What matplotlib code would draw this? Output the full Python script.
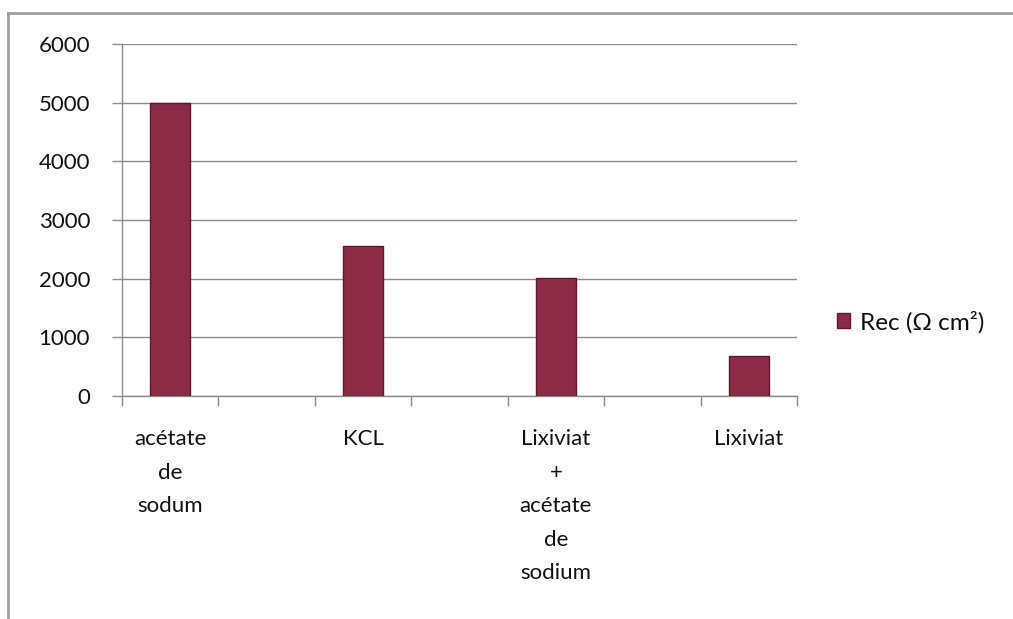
import matplotlib
matplotlib.use("Agg")
import matplotlib.pyplot as plt
from matplotlib.lines import Line2D
from matplotlib.patches import Patch

categories = ["acétate\nde\nsodum", "", "KCL", "", "Lixiviat\n+\nacétate\nde\nsodium", "", "Lixiviat"]
values = [5000, None, 2560, None, 2010, None, 690]
series_name = "Rec (Ω cm²)"
yticks = [0, 1000, 2000, 3000, 4000, 5000, 6000]

plt.rcParams['font.family'] = ['Lato', 'DejaVu Sans']

W, H = 1013, 619
fig = plt.figure(figsize=(W / 100, H / 100), dpi=100)
ax = fig.add_axes([122 / W, 1 - 396 / H, (797 - 122) / W, (396 - 44) / H])

grid_c = "#8c8c8c"
bar_c = "#8c2b46"
edge_c = "#5e1a2c"
txt_c = "#111111"

xs = [i for i, v in enumerate(values) if v is not None]
hs = [v for v in values if v is not None]
ax.bar(xs, hs, width=0.42, color=bar_c, edgecolor=edge_c, linewidth=1.0, zorder=3)

ax.set_xlim(-0.5, len(categories) - 0.5)
ax.set_ylim(0, 6000)
ax.set_yticks(yticks)
ax.set_yticklabels([str(t) for t in yticks], fontsize=16, color=txt_c)
ax.yaxis.grid(True, color=grid_c, linewidth=1.0, zorder=0)

ax.set_xticks([i - 0.5 for i in range(len(categories) + 1)])
ax.set_xticklabels([])
ax.set_xticks(range(len(categories)), minor=True)
ax.set_xticklabels(categories, minor=True, fontsize=16, color=txt_c, linespacing=1.84, va="top")
ax.tick_params(axis="x", which="minor", length=0, pad=24)
ax.tick_params(axis="x", which="major", length=7, color=grid_c, width=1.0, direction="out")
ax.tick_params(axis="y", length=7, color=grid_c, width=1.0, direction="out", pad=16)

for s in ["top", "right"]:
    ax.spines[s].set_visible(False)
for s in ["left", "bottom"]:
    ax.spines[s].set_color(grid_c)
    ax.spines[s].set_linewidth(1.0)

handle = Patch(facecolor=bar_c, edgecolor=edge_c)
fig.legend([handle], [series_name], loc="center left", bbox_to_anchor=(837 / W, 1 - 322 / H),
           frameon=False, fontsize=17.5, handlelength=0.55, handleheight=0.55,
           handletextpad=0.4, borderaxespad=0, borderpad=0, labelcolor=txt_c)

# outer chart border (partially visible)
fig.add_artist(Line2D([8 / W, 1.0], [1 - 13 / H, 1 - 13 / H], transform=fig.transFigure, color="#a0a0a0", linewidth=2))
fig.add_artist(Line2D([8 / W, 8 / W], [0, 1 - 13 / H], transform=fig.transFigure, color="#a0a0a0", linewidth=2))

fig.savefig("out.png", dpi=100, facecolor="white")
